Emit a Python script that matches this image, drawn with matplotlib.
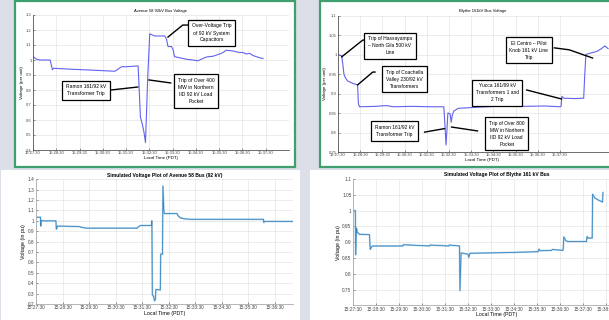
import matplotlib
matplotlib.use('Agg')
import matplotlib.pyplot as plt
from matplotlib.patches import Rectangle

plt.rcParams['font.family'] = ['Liberation Sans', 'DejaVu Sans']

W, H = 609, 320

# time in seconds after 15:27:30
tick_sec = [0, 60, 120, 180, 240, 300, 360, 420, 480, 540, 600, 660]
tick_lbl = ['15:27:30', '15:28:30', '15:29:30', '15:30:30', '15:31:30', '15:32:30',
            '15:33:30', '15:34:30', '15:35:30', '15:36:30', '15:37:30', '15:38:30']

# measured: Avenue 58 92 kV
av_t = [1, 9, 18, 44, 47, 50, 53, 87, 130, 172, 211, 220, 228, 241, 267, 271, 277, 282, 286, 290,
        292, 296, 301, 305, 314, 327, 340, 344, 348, 357, 361, 365, 378, 395, 412, 425, 430, 438,
        447, 464, 481, 490, 498, 516, 524, 533, 541, 550, 558, 567, 584, 593]
av_v = [1.022, 1.005, 1.0, 1.0, 0.97, 0.935, 0.945, 0.94, 0.935, 0.93, 0.925, 0.94, 0.955, 0.955,
        0.96, 0.96, 0.62, 0.57, 0.52, 0.45, 0.6, 0.9, 1.175, 1.17, 1.16, 1.16, 1.16, 1.14, 1.09,
        1.09, 1.07, 1.022, 1.015, 1.005, 1.0, 0.995, 1.0, 1.01, 1.02, 1.025, 1.04, 1.05, 1.065,
        1.06, 1.055, 1.05, 1.05, 1.04, 1.045, 1.03, 1.015, 1.01]

# measured: Blythe 161 kV
bl_t = [0, 10, 13, 16, 20, 26, 40, 53, 55, 58, 100, 130, 150, 200, 250, 286, 289, 292, 294, 297,
        303, 306, 309, 313, 325, 400, 450, 500, 560, 600, 603, 605, 610, 640, 664, 667, 670, 680,
        700, 712, 721, 730]
bl_v = [1.0, 0.997, 0.975, 0.95, 0.94, 0.932, 0.926, 0.922, 0.875, 0.866, 0.867, 0.869, 0.866,
        0.867, 0.866, 0.866, 0.82, 0.768, 0.8, 0.85, 0.848, 0.826, 0.845, 0.855, 0.862, 0.866,
        0.868, 0.867, 0.868, 0.866, 0.867, 0.893, 0.888, 0.887, 0.888, 0.95, 1.0, 1.003, 1.008,
        1.015, 1.022, 1.015]

# simulated: Avenue 58 92 kV
sa_t = [0, 10, 11, 12, 15, 45, 46, 49, 97, 112, 229, 232, 236, 261, 262, 263, 266, 268, 270, 271,
        281, 282, 286, 287, 289, 290, 319, 321, 326, 335, 349, 514, 515, 517, 581]
sa_v = [1.035, 1.035, 0.95, 1.005, 1.0, 1.0, 0.92, 0.95, 0.945, 0.93, 0.93, 0.945, 0.955, 0.955,
        1.0, 0.29, 0.27, 0.23, 0.25, 0.34, 0.335, 0.68, 0.68, 1.335, 1.1, 1.07, 1.07, 1.05, 1.03,
        1.02, 1.015, 1.015, 0.985, 0.995, 0.995]

# simulated: Blythe 161 kV
sb_t = [0, 6, 7, 9, 11, 17, 43, 45, 48, 52, 130, 131, 200, 201, 250, 251, 278, 279, 282, 300,
        302, 305, 396, 483, 485, 488, 518, 520, 548, 550, 555, 561, 609, 611, 613, 624, 625, 631,
        639, 651, 652]
sb_v = [1.0, 1.0, 0.86, 0.945, 0.932, 0.925, 0.924, 0.877, 0.885, 0.888, 0.888, 0.892, 0.888,
        0.891, 0.888, 0.891, 0.888, 0.747, 0.866, 0.862, 0.852, 0.865, 0.867, 0.87, 0.878, 0.873,
        0.874, 0.877, 0.874, 0.917, 0.905, 0.902, 0.902, 0.918, 0.913, 0.913, 1.052, 1.04, 1.034,
        1.027, 1.057]

# annotations: text, box centre (t, v), leader path
av_notes = [
    ('Over-Voltage Trip\nof 92 kV System\nCapacitors', (461, 1.18), [(399, 1.233), (386, 1.233), (348, 1.153)]),
    ('Ramon 161/92 kV\nTransformer Trip', (136, 0.797), [(201, 0.80), (270, 0.82)]),
    ('Trip of Over 400\nMW in Northern\nIID 92 kV Load\nPocket', (420, 0.793), [(355, 0.847), (299, 0.867)]),
]
bl_notes = [
    ('Trip of Hassayampa\n– North Gila 500 kV\nLine', (140, 1.022), [(78, 1.037), (67, 1.037), (10, 0.994)]),
    ('Trip of Coachella\nValley 230/92 kV\nTransformers', (180, 0.937), [(100, 0.955), (94, 0.955), (53, 0.922)]),
    ('El Centro – Pilot\nKnob 161 kV Line\nTrip', (516, 1.011), [(585, 1.017), (625, 1.012), (688, 0.991)]),
    ('Yucca 161/69 kV\nTransformers 1 and\n2 Trip', (430, 0.902), [(510, 0.909), (604, 0.886)]),
    ('Ramon 161/92 kV\nTransformer Trip', (153, 0.804), [(234, 0.801), (288, 0.81)]),
    ('Trip of Over 800\nMW in Northern\nIID 92 kV Load\nPocket', (456, 0.797), [(377, 0.804), (307, 0.814)]),
]

green = '#3f9f6f'
meas_blue = '#6262f0'
sim_blue = '#3a86c0'

fig = plt.figure(figsize=(W / 100, H / 100), dpi=100)
fig.patch.set_facecolor('#dcdfe8')


def panel(x0, y0, x1, y1, edge):
    r = Rectangle((x0 / W, 1 - y1 / H), (x1 - x0) / W, (y1 - y0) / H, transform=fig.transFigure,
                  facecolor='white', edgecolor=edge, lw=1.6 if edge != 'none' else 0, zorder=-5)
    fig.patches.append(r)


def axes_px(l, t, r, b):
    return fig.add_axes([l / W, 1 - b / H, (r - l) / W, (b - t) / H])


panel(15, 1, 295, 167, green)
panel(320, 1, 640, 167, green)
panel(1, 170, 300, 321, 'none')
panel(310, 170, 640, 321, 'none')


def style(ax, fs, spine_col, xmax, nticks):
    for s in ['top', 'right']:
        ax.spines[s].set_visible(False)
    for s in ['left', 'bottom']:
        ax.spines[s].set_color(spine_col)
        ax.spines[s].set_linewidth(0.6)
    ax.patch.set_alpha(0)
    ax.grid(True, color='#e4e4e4', lw=0.5)
    ax.set_axisbelow(True)
    ax.tick_params(labelsize=fs, length=1.5, width=0.4, pad=1, colors='#444444', direction='in')
    ax.set_xticks(tick_sec[:nticks])
    ax.set_xticklabels(tick_lbl[:nticks])
    ax.set_xlim(0, xmax)


def add_notes(ax, notes, fs):
    for txt, (tx, ty), path in notes:
        ax.text(tx, ty, txt, ha='center', va='center', fontsize=fs, linespacing=1.5, zorder=5,
                bbox=dict(boxstyle='square,pad=0.75', fc='white', ec='black', lw=0.9))
        xs = [p[0] for p in path]
        ys = [p[1] for p in path]
        ax.plot(xs, ys, color='black', lw=1.0, zorder=4, clip_on=False)


# top left
ax1 = axes_px(33, 15, 289, 150)
ax1.plot(av_t, av_v, color=meas_blue, lw=0.8)
ax1.set_ylim(0.4, 1.3)
ax1.set_yticks([0.4, 0.5, 0.6, 0.7, 0.8, 0.9, 1.0, 1.1, 1.2, 1.3])
ax1.set_yticklabels(['0.4', '0.5', '0.6', '0.7', '0.8', '0.9', '1', '1.1', '1.2', '1.3'])
style(ax1, 3, '#555555', 660, 11)
ax1.set_title('Avenue 58 92kV Bus Voltage', fontsize=3.0, pad=2.5)
ax1.set_xlabel('Local Time (PDT)', fontsize=3.2, labelpad=0.5)
ax1.set_ylabel('Voltage (per unit)', fontsize=3.2, labelpad=1)
add_notes(ax1, av_notes, 3.6)

# top right
ax2 = axes_px(338, 15.5, 338 + 22.2 * 13, 152)
ax2.plot(bl_t, bl_v, color=meas_blue, lw=0.8)
ax2.set_ylim(0.75, 1.1)
ax2.set_yticks([0.75, 0.8, 0.85, 0.9, 0.95, 1.0, 1.05, 1.1])
ax2.set_yticklabels(['0.75', '0.8', '0.85', '0.9', '0.95', '1', '1.05', '1.1'])
style(ax2, 3, '#555555', 780, 11)
ax2.set_title('Blythe 161kV Bus Voltage', fontsize=3.0, pad=2.5)
ax2.set_xlabel('Local Time (PDT)', fontsize=3.2, labelpad=0.5)
ax2.set_ylabel('Voltage (per unit)', fontsize=3.2, labelpad=1)
add_notes(ax2, bl_notes, 3.5)

# bottom left
ax3 = axes_px(36, 179.3, 293, 304)
ax3.plot(sa_t, sa_v, color='#b0d2ea', lw=1.3)
ax3.plot(sa_t, sa_v, color=sim_blue, lw=0.6)
ax3.set_ylim(0.2, 1.4)
ax3.set_yticks([0.2, 0.3, 0.4, 0.5, 0.6, 0.7, 0.8, 0.9, 1.0, 1.1, 1.2, 1.3, 1.4])
ax3.set_yticklabels(['0.2', '0.3', '0.4', '0.5', '0.6', '0.7', '0.8', '0.9', '1', '1.1', '1.2', '1.3', '1.4'])
style(ax3, 3.4, '#aaaaaa', 581, 10)
ax3.set_title('Simulated Voltage Plot of Avenue 58 Bus (92 kV)', fontsize=3.6, fontweight='bold', pad=2)
ax3.set_xlabel('Local Time (PDT)', fontsize=3.8, labelpad=0.5)
ax3.set_ylabel('Voltage (in pu)', fontsize=3.8, labelpad=1)

# bottom right
ax4 = axes_px(353, 179, 353 + 23 * 12.5, 305.4)
ax4.plot(sb_t, sb_v, color='#b0d2ea', lw=1.3)
ax4.plot(sb_t, sb_v, color=sim_blue, lw=0.6)
ax4.set_ylim(0.7, 1.1)
ax4.set_yticks([0.75, 0.8, 0.85, 0.9, 0.95, 1.0, 1.05, 1.1])
ax4.set_yticklabels(['0.75', '0.8', '0.85', '0.9', '0.95', '1', '1.05', '1.1'])
style(ax4, 3.4, '#aaaaaa', 750, 12)
ax4.set_title('Simulated Voltage Plot of Blythe 161 kV Bus', fontsize=3.6, fontweight='bold', pad=2)
ax4.set_xlabel('Local Time (PDT)', fontsize=3.8, labelpad=0.5)
ax4.set_ylabel('Voltage (in pu)', fontsize=3.8, labelpad=1)

fig.savefig('out.png', dpi=100, facecolor=fig.get_facecolor())
